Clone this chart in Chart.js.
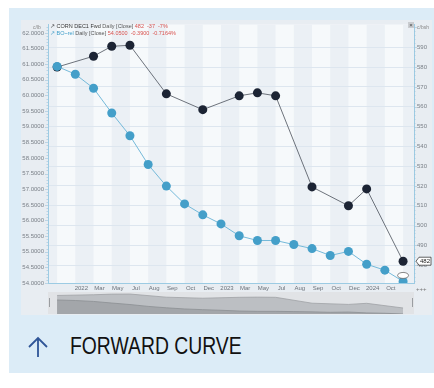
<!DOCTYPE html>
<html>
<head>
<meta charset="utf-8">
<script src="https://cdn.jsdelivr.net/npm/chart.js@4.4.1/dist/chart.umd.min.js"></script>
<style>
    body { margin: 0; width: 434px; height: 388px; background: #fff; position: relative; overflow: hidden; font-family: "Liberation Sans", Arial, sans-serif; }
    .abs { position: absolute; }
    #panel { left: 9px; top: 8px; width: 425px; height: 365px; background: #dcecf7; }
    #inner { left: 21px; top: 20px; width: 411px; height: 295px; background: #e8edf2; }
    #main { left: 21px; top: 20px; }
    #nav { left: 48px; top: 292px; background: #e1e3e6; }
    .legend { left: 50px; font-size: 5.5px; line-height: 7px; white-space: nowrap; color: #555; }
    .legend .red { color: #d9534f; }
    .unit { font-size: 5px; color: #888; }
    #close { left: 408px; top: 22px; width: 6px; height: 6px; background: #c9ccd0; font-size: 6px; line-height: 6px; text-align: center; color: #444; }
    #title { left: 70px; top: 335px; font-size: 23.5px; line-height: 23.5px; color: #111; transform: scaleX(0.823); transform-origin: left top; white-space: nowrap; }
    .handle { top: 298px; width: 1px; height: 9px; background: #9a9da1; }
</style>
</head>
<body>
<div id="panel" class="abs"></div>
<div id="inner" class="abs"></div>
<canvas id="main" class="abs" width="411" height="276"></canvas>
<canvas id="nav" class="abs" width="366" height="22"></canvas>
<div class="abs handle" style="left:49px"></div>
<div class="abs handle" style="left:412px"></div>

<div class="abs legend" style="top:23px"><span style="color:#333">&#8599; CORN DEC1 Fwd</span> Daily [Close] <span class="red">482 &nbsp;-37 &nbsp;-7%</span></div>
<div class="abs legend" style="top:30px"><span style="color:#3d9cc9">&#8599; BO~rel</span> Daily [Close] <span class="red">54.0500 &nbsp;-0.3900 &nbsp;-0.7164%</span></div>
<div class="abs unit" style="left:33px;top:24px">c/lb</div>
<div class="abs unit" style="left:417px;top:24px">c/bsh</div>
<div id="close" class="abs">&#215;</div>
<div class="abs unit" style="left:416px;top:286px;font-size:6px;color:#777">+++</div>

<svg class="abs" style="left:26px;top:335px" width="24" height="24" viewBox="0 0 24 24">
    <path d="M12 3 V22 M3 12 L12 3 L21 12" fill="none" stroke="#2f5597" stroke-width="1.8"/>
</svg>
<div id="title" class="abs">FORWARD CURVE</div>

<script>
// contract month labels under the x axis
var monthLabels = ['2022', 'Mar', 'May', 'Jul', 'Aug', 'Sep', 'Oct', 'Dec', '2023', 'Mar', 'May', 'Jul', 'Aug', 'Sep', 'Oct', 'Dec', '2024', 'Oct'];

// BO~rel forward curve (c/lb), one per contract slot
var boValues = [60.93, 60.68, 60.23, 59.44, 58.71, 57.79, 57.10, 56.53, 56.18, 55.89, 55.51, 55.36, 55.36, 55.23, 55.10, 54.88, 55.01, 54.60, 54.41, 54.05];

// CORN DEC1 Fwd (c/bsh), null where no contract
var cornValues = [580, null, 585.5, 590.5, 591, null, 566.5, null, 558.5, null, 565.5, 567, 565.5, null, 519.5, null, 510, 518.5, null, 482];

function toPoints(arr) {
    var out = [];
    for (var i = 0; i < arr.length; i++) {
        out.push({x: i, y: arr[i]});
    }
    return out;
}

// no extra label padding, so the plot area stays where it is set
function noPad(s) {
    s.paddingTop = 0;
    s.paddingBottom = 0;
    s.paddingLeft = 0;
    s.paddingRight = 0;
}

var tickFont = {family: "'Liberation Sans', Arial, sans-serif", size: 6};

//-------------
//- background column bands
//-------------
var bandsPlugin = {
    id: 'bands',
    beforeDraw: function (chart) {
        var ctx = chart.ctx, a = chart.chartArea, x = chart.scales.x;
        ctx.save();
        ctx.fillStyle = '#f6f9fb';
        ctx.fillRect(a.left, a.top, a.width, a.height);
        ctx.beginPath();
        ctx.rect(a.left, a.top, a.width, a.height);
        ctx.clip();
        ctx.fillStyle = '#ebf0f5';
        for (var i = -1; i < boValues.length; i += 2) {
            var x0 = x.getPixelForValue(i), x1 = x.getPixelForValue(i + 1);
            ctx.fillRect(x0, a.top, x1 - x0, a.height);
        }
        ctx.restore();
    }
};

//-------------
//- minor ticks, last value tag
//-------------
var extrasPlugin = {
    id: 'extras',
    afterDraw: function (chart) {
        var ctx = chart.ctx, a = chart.chartArea;
        var yl = chart.scales.y, yr = chart.scales.y1, x = chart.scales.x;
        ctx.save();
        ctx.strokeStyle = '#9cc3da';
        ctx.lineWidth = 0.6;
        ctx.beginPath();
        for (var v = 54; v <= 62.25; v += 0.1) {
            var py = Math.round(yl.getPixelForValue(v)) + 0.5;
            var major = Math.abs(v * 2 - Math.round(v * 2)) < 0.01;
            ctx.moveTo(a.left - (major ? 3 : 1.5), py);
            ctx.lineTo(a.left, py);
        }
        for (var w = 472; w <= 600; w += 2) {
            var qy = Math.round(yr.getPixelForValue(w)) + 0.5;
            ctx.moveTo(a.right, qy);
            ctx.lineTo(a.right + (w % 10 === 0 ? 3 : 1.5), qy);
        }
        ctx.stroke();

        // last corn value tag on right axis
        var last = cornValues[cornValues.length - 1];
        var ty = yr.getPixelForValue(last);
        var tx = a.right + 2;
        ctx.beginPath();
        ctx.moveTo(tx, ty);
        ctx.lineTo(tx + 3, ty - 4);
        ctx.lineTo(tx + 15, ty - 4);
        ctx.lineTo(tx + 15, ty + 4);
        ctx.lineTo(tx + 3, ty + 4);
        ctx.closePath();
        ctx.fillStyle = '#fff';
        ctx.fill();
        ctx.strokeStyle = '#222';
        ctx.lineWidth = 0.7;
        ctx.stroke();
        ctx.fillStyle = '#222';
        ctx.font = "6px 'Liberation Sans', Arial, sans-serif";
        ctx.textAlign = 'center';
        ctx.textBaseline = 'middle';
        ctx.fillText(String(last), tx + 9, ty + 0.5);

        // small marker above last BO point
        var mx = x.getPixelForValue(boValues.length - 1);
        var my = yl.getPixelForValue(boValues[boValues.length - 1]) - 6;
        ctx.beginPath();
        ctx.ellipse(mx, my, 5.5, 3, 0, 0, Math.PI * 2);
        ctx.fillStyle = '#fff';
        ctx.fill();
        ctx.strokeStyle = '#555';
        ctx.stroke();
        ctx.restore();
    }
};

var mainChart = new Chart(document.getElementById('main'), {
    type: 'line',
    data: {
        datasets: [
            {
                label: 'CORN DEC1 Fwd',
                data: toPoints(cornValues),
                yAxisID: 'y1',
                spanGaps: true,
                borderColor: '#4a505a',
                borderWidth: 0.8,
                pointRadius: 4.5,
                pointBackgroundColor: '#1c2434',
                pointBorderWidth: 0,
                order: 1
            },
            {
                label: 'BO~rel',
                data: toPoints(boValues),
                yAxisID: 'y',
                borderColor: '#74b9d9',
                borderWidth: 1,
                pointRadius: 4.5,
                pointBackgroundColor: '#449fc9',
                pointBorderWidth: 0,
                order: 0
            }
        ]
    },
    options: {
        responsive: false,
        animation: false,
        layout: {padding: {top: 2, left: 0, right: 0, bottom: 0}},
        plugins: {legend: {display: false}, tooltip: {enabled: false}},
        scales: {
            x: {
                type: 'linear',
                min: -0.5,
                max: 19.6,
                afterBuildTicks: function (s) {
                    s.ticks = monthLabels.map(function (l, k) { return {value: k + 1.33}; });
                },
                afterFit: function (s) { s.height = 13; noPad(s); },
                ticks: {
                    autoSkip: false,
                    maxRotation: 0,
                    padding: 2,
                    color: '#6c727a',
                    font: tickFont,
                    callback: function (v, i) { return monthLabels[i]; }
                },
                grid: {display: false, drawTicks: false},
                border: {color: '#9ccbe3'}
            },
            y: {
                position: 'left',
                min: 54,
                max: 62.27,
                afterBuildTicks: function (s) {
                    var t = [];
                    for (var v = 54; v <= 62.0001; v += 0.5) t.push({value: v});
                    s.ticks = t;
                },
                afterFit: function (s) { s.width = 27; noPad(s); },
                ticks: {
                    padding: 4,
                    color: '#7a8088',
                    font: tickFont,
                    callback: function (v) { return Number(v).toFixed(4); }
                },
                grid: {display: false, drawTicks: false},
                border: {color: '#9ccbe3'}
            },
            y1: {
                position: 'right',
                min: 471,
                max: 601.5,
                afterBuildTicks: function (s) {
                    var t = [];
                    for (var v = 480; v <= 590; v += 10) t.push({value: v});
                    s.ticks = t;
                },
                afterFit: function (s) { s.width = 18; noPad(s); },
                ticks: {
                    padding: 3,
                    color: '#7a8088',
                    font: tickFont
                },
                grid: {color: '#dde6ef', lineWidth: 1, drawTicks: false},
                border: {color: '#9ccbe3'}
            }
        }
    },
    plugins: [bandsPlugin, extrasPlugin]
});

//-------------
//- navigator strip
//-------------
var navChart = new Chart(document.getElementById('nav'), {
    type: 'line',
    data: {
        datasets: [
            {
                data: toPoints(boValues),
                yAxisID: 'yb',
                fill: 'start',
                backgroundColor: '#a3a6aa',
                borderColor: '#8c8f93',
                borderWidth: 0.8,
                pointRadius: 0,
                order: 0
            },
            {
                data: toPoints(cornValues),
                yAxisID: 'yc',
                spanGaps: true,
                fill: 'start',
                backgroundColor: '#bcbfc3',
                borderColor: '#9fa2a6',
                borderWidth: 0.8,
                pointRadius: 0,
                order: 1
            }
        ]
    },
    options: {
        responsive: false,
        animation: false,
        layout: {padding: 0},
        plugins: {legend: {display: false}, tooltip: {enabled: false}},
        scales: {
            x: {type: 'linear', min: -0.5, max: 19.6, display: false},
            yc: {min: 435, max: 607, display: false},
            yb: {min: 54.05, max: 64.86, display: false}
        }
    }
});
</script>
</body>
</html>
